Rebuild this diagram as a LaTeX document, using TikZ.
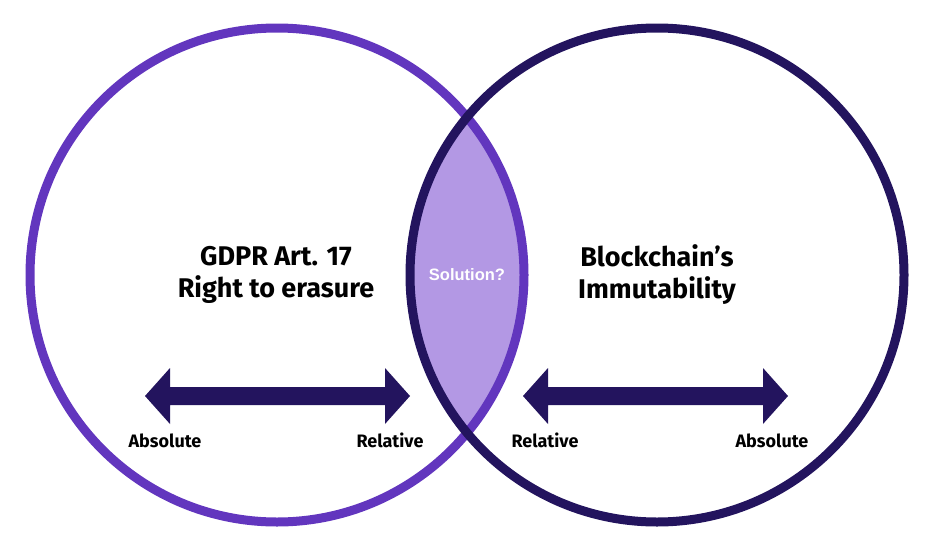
\documentclass[tikz,border=0pt]{standalone}
\usepackage{fontspec}
\setmainfont{Fira Sans}
\newfontfamily\solfont{Liberation Sans}
\usepackage{tikz}
\usetikzlibrary{positioning}
\definecolor{lawpurple}{RGB}{98,54,190}
\definecolor{chainnavy}{RGB}{35,20,94}
\definecolor{lenslilac}{RGB}{179,152,228}

\tikzset{
  twoway/.pic={
    \fill[chainnavy] (-132.5,0) -- (-107.5,-28) -- (-107.5,-9) -- (107.5,-9)
      -- (107.5,-28) -- (132.5,0) -- (107.5,28) -- (107.5,9) -- (-107.5,9)
      -- (-107.5,28) -- cycle;
  }
}

\begin{document}
\begin{tikzpicture}[x=1pt, y=-1pt,
    ring/.style={line width=9pt},
    title/.style={font=\fontsize{27}{32}\selectfont\bfseries, align=center},
    endlabel/.style={font=\fontsize{18}{21}\selectfont\bfseries, anchor=base}]
  \useasboundingbox (0,0) rectangle (935,554);

  \coordinate (cl) at (277,275);
  \coordinate (cr) at (657,275);

  % overlap of the two sets
  \begin{scope}
    \clip (cl) circle[radius=247];
    \fill[lenslilac] (cr) circle[radius=247];
  \end{scope}
  \draw[ring, lawpurple] (cl) circle[radius=247];
  \draw[ring, chainnavy] (cr) circle[radius=247];

  \node[title] (gdpr) at (276,275) {GDPR Art. 17\\Right to erasure};
  \node[title] (chain) at (657,275) {Blockchain’s\\Immutability};
  \node[font=\solfont\fontsize{16.5}{20}\selectfont\bfseries, text=white]
    (sol) at (467,275) {Solution?};

  \pic at (277.5,396) {twoway};
  \pic at (655.5,396) {twoway};

  \node[endlabel] (absl) at (165,447) {Absolute};
  \node[endlabel] (rell) at (390,447) {Relative};
  \node[endlabel] (relr) at (545,447) {Relative};
  \node[endlabel] (absr) at (772,447) {Absolute};
\end{tikzpicture}
\end{document}
